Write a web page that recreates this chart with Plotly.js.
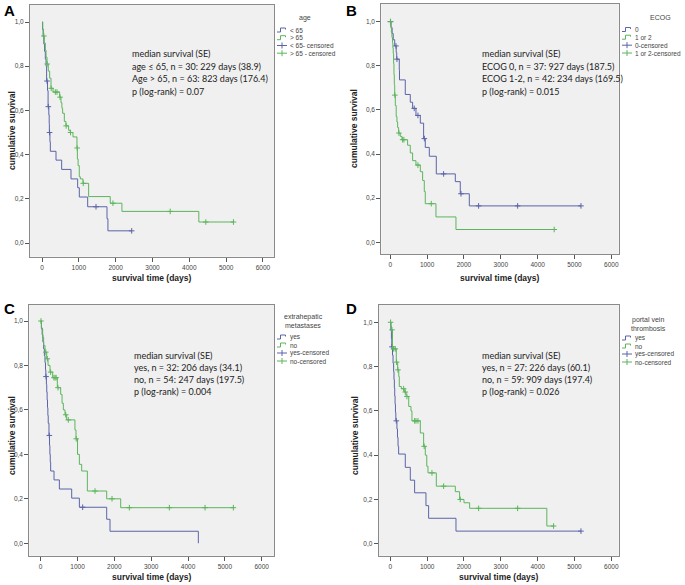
<!DOCTYPE html>
<html><head><meta charset="utf-8">
<script src="https://cdn.plot.ly/plotly-3.0.1.min.js"></script>
<style>html,body{margin:0;padding:0;background:#fff}#chart{width:685px;height:585px}</style>
</head><body><div id="chart"></div>
<script>
// ---------- DATA ----------
const xTickVals = [0, 1000, 2000, 3000, 4000, 5000, 6000];
const xTickText = ['0', '1000', '2000', '3000', '4000', '5000', '6000'];
const yTickVals = [0, 0.2, 0.4, 0.6, 0.8, 1.0];
const yTickText = ['0,0', '0,2', '0,4', '0,6', '0,8', '1,0'];

// Panel A: age
const A_le65_t = [15, 30, 50, 70, 90, 110, 125, 150, 165, 185, 195, 200, 215, 226, 380, 534, 787, 968, 1013, 1240, 1765, 1790];
const A_le65_s = [.967, .933, .9, .867, .833, .8, .733, .69, .617, .58, .54, .5, .458, .415, .375, .333, .29, .25, .208, .164, .11, .055];
const A_le65_c = [136, 172, 205, 1466, 2435];
const A_gt65_t = [20, 40, 60, 90, 110, 136, 170, 208, 244, 300, 479, 515, 540, 560, 606, 651, 723, 768, 841, 949, 960, 980, 1012, 1040, 1112, 1266, 1853, 2170, 4258];
const A_gt65_s = [.968, .937, .905, .873, .841, .81, .778, .746, .70, .683, .66, .635, .61, .587, .55, .53, .51, .50, .48, .43, .38, .35, .30, .29, .27, .21, .18, .143, .095];
const A_gt65_c = [50, 140, 250, 362, 407, 490, 655, 775, 955, 1120, 1926, 3480, 4448, 5198];

// Panel B: ECOG
const B_e0_t = [20, 50, 80, 120, 160, 175, 244, 250, 407, 543, 606, 697, 815, 905, 950, 1059, 1249, 1765, 1900, 2145];
const B_e0_s = [.973, .946, .918, .89, .86, .83, .78, .736, .67, .635, .607, .575, .54, .47, .43, .39, .31, .275, .22, .165];
const B_e0_c = [5, 154, 181, 650, 751, 925, 1448, 1920, 2398, 3457, 5177];
const B_e12_t = [15, 30, 45, 60, 70, 80, 90, 100, 109, 120, 136, 160, 181, 200, 226, 271, 317, 470, 543, 606, 697, 815, 878, 923, 950, 1240, 1783];
const B_e12_s = [.976, .952, .929, .905, .881, .857, .81, .76, .714, .667, .62, .57, .545, .52, .495, .48, .465, .44, .405, .37, .35, .32, .28, .23, .175, .115, .058];
const B_e12_c = [8, 125, 235, 335, 370, 751, 1113, 4450];

// Panel C: extrahepatic metastases
const C_yes_t = [20, 40, 60, 80, 100, 118, 130, 140, 155, 165, 175, 185, 195, 205, 225, 240, 250, 260, 271, 362, 507, 842, 1050, 1792, 1882, 4280];
const C_yes_s = [.969, .938, .906, .875, .844, .8125, .78, .75, .715, .68, .645, .61, .575, .54, .485, .44, .40, .365, .325, .285, .244, .203, .162, .108, .054, 0];
const C_yes_c = [145, 235, 1140];
const C_no_t = [20, 54, 80, 118, 163, 200, 253, 326, 452, 543, 580, 615, 660, 706, 930, 959, 1000, 1050, 1113, 1267, 1792, 2172];
const C_no_s = [.963, .926, .89, .86, .83, .80, .77, .745, .70, .67, .63, .60, .578, .555, .51, .47, .40, .355, .325, .235, .20, .16];
const C_no_c = [8, 138, 180, 270, 360, 390, 420, 470, 680, 750, 965, 1475, 1937, 2407, 3493, 4462, 5231];

// Panel D: portal vein thrombosis
const D_yes_t = [15, 30, 40, 60, 75, 90, 100, 110, 120, 130, 140, 150, 180, 195, 210, 226, 407, 543, 660, 968, 1040, 1783];
const D_yes_s = [.963, .926, .889, .852, .815, .778, .741, .704, .667, .63, .593, .555, .518, .48, .44, .405, .345, .287, .23, .172, .115, .057];
const D_yes_c = [45, 163, 5177];
const D_no_t = [15, 30, 60, 163, 200, 230, 244, 300, 380, 430, 500, 561, 588, 815, 905, 950, 990, 1023, 1249, 1765, 1882, 2000, 2154, 4250];
const D_no_s = [.983, .966, .88, .82, .785, .755, .71, .70, .685, .665, .62, .60, .555, .50, .44, .40, .35, .32, .26, .235, .20, .185, .16, .08];
const D_no_c = [8, 45, 90, 136, 170, 208, 362, 407, 452, 660, 697, 751, 920, 1131, 1448, 1900, 2398, 3457, 4434];

// Texts
const A_stats = ['median survival (SE)', 'age ≤ 65, n = 30: 229 days (38.9)', 'Age > 65, n = 63: 823 days (176.4)', 'p (log-rank) = 0.07'];
const B_stats = ['median survival (SE)', 'ECOG 0, n = 37: 927 days (187.5)', 'ECOG 1-2, n = 42: 234 days (169.5)', 'p (log-rank) = 0.015'];
const C_stats = ['median survival (SE)', 'yes, n = 32: 206 days (34.1)', 'no, n = 54: 247 days (197.5)', 'p (log-rank) = 0.004'];
const D_stats = ['median survival (SE)', 'yes, n = 27: 226 days (60.1)', 'no, n = 59: 909 days (197.4)', 'p (log-rank) = 0.026'];
const A_legTitle = ['age'];
const B_legTitle = ['ECOG'];
const C_legTitle = ['extrahepatic', 'metastases'];
const D_legTitle = ['portal vein', 'thrombosis'];
const A_legItems = ['< 65', '> 65', '< 65- censored', '> 65 - censored'];
const B_legItems = ['0', '1 or 2', '0-censored', '1 or 2-censored'];
const C_legItems = ['yes', 'no', 'yes-censored', 'no-censored'];
const D_legItems = ['yes', 'no', 'yes-censored', 'no-censored'];
const yTitle = 'cumulative survival';
const xTitle = 'survival time (days)';

// ---------- LAYOUT HELPERS ----------
const W = 685, H = 585;
const BLUE = '#5a64a8', GREEN = '#5cb55c';
const px = x => x / W;
const py = y => 1 - y / H;

const panels = [
  {letter:'A', ax:'', frame:[30,5,274.3,256.7], xr:[-326,6307], yr:[-0.062,1.077],
   curves:[[A_le65_t,A_le65_s,A_le65_c,BLUE],[A_gt65_t,A_gt65_s,A_gt65_c,GREEN]],
   stats:A_stats, statX:130, statY:[53,66.5,79,91.5],
   legTitle:A_legTitle, legTitleX:305, legTitleY:[18], legItems:A_legItems, iconX:277, legY:[30,37.7,45.5,53.2],
   letterXY:[2,10], yTitleXY:[12,131], xTitleXY:[152,278]},
  {letter:'B', ax:'2', frame:[381.3,4,618.7,254], xr:[-244,6201], yr:[-0.053,1.080],
   curves:[[B_e0_t,B_e0_s,B_e0_c,BLUE],[B_e12_t,B_e12_s,B_e12_c,GREEN]],
   stats:B_stats, statX:480, statY:[53,66.5,79,91.5],
   legTitle:B_legTitle, legTitleX:660, legTitleY:[17], legItems:B_legItems, iconX:622, legY:[29.5,37.2,45.2,53],
   letterXY:[344,10], yTitleXY:[354,129], xTitleXY:[500,278]},
  {letter:'C', ax:'3', frame:[29.3,305,274,555.7], xr:[-309,6334], yr:[-0.056,1.072],
   curves:[[C_yes_t,C_yes_s,C_yes_c,BLUE],[C_no_t,C_no_s,C_no_c,GREEN]],
   stats:C_stats, statX:132, statY:[355,367,379,391],
   legTitle:C_legTitle, legTitleX:303, legTitleY:[317,325], legItems:C_legItems, iconX:277, legY:[337,345,353,361],
   letterXY:[2,308], yTitleXY:[12,436], xTitleXY:[152,577]},
  {letter:'D', ax:'4', frame:[378.7,305,618.7,555.7], xr:[-315,6201], yr:[-0.054,1.078],
   curves:[[D_yes_t,D_yes_s,D_yes_c,BLUE],[D_no_t,D_no_s,D_no_c,GREEN]],
   stats:D_stats, statX:480, statY:[355,367,379,391],
   legTitle:D_legTitle, legTitleX:648, legTitleY:[320,328], legItems:D_legItems, iconX:622, legY:[338,346,354,362],
   letterXY:[344,308], yTitleXY:[355,436], xTitleXY:[499,577]}
];

function stepAt(t, ts, ss) {
  let v = 1;
  for (let i = 0; i < ts.length; i++) if (ts[i] <= t) v = ss[i];
  return v;
}

const traces = [];
const layout = {
  width: W, height: H, margin: {l:0, r:0, t:0, b:0},
  paper_bgcolor: '#ffffff', plot_bgcolor: '#f0f0f0',
  showlegend: false, annotations: [], shapes: [],
  font: {family: 'Liberation Sans, Arial, sans-serif', color: '#333'}
};

const axisCommon = {
  showgrid: false, zeroline: false, showline: true, mirror: true,
  linecolor: '#8a8a8a', linewidth: 1, ticks: 'outside', ticklen: 4, tickwidth: 1,
  tickcolor: '#555', fixedrange: true,
  tickfont: {family: 'Liberation Sans, Arial, sans-serif', size: 6.5, color: '#444'}
};

panels.forEach(p => {
  const xa = 'x' + p.ax, ya = 'y' + p.ax;
  const [l, t, r, b] = p.frame;
  layout['xaxis' + p.ax] = Object.assign({}, axisCommon, {
    domain: [px(l), px(r)], range: p.xr, anchor: ya,
    tickmode: 'array', tickvals: xTickVals, ticktext: xTickText
  });
  layout['yaxis' + p.ax] = Object.assign({}, axisCommon, {
    domain: [py(b), py(t)], range: p.yr, anchor: xa,
    tickmode: 'array', tickvals: yTickVals, ticktext: yTickText
  });

  p.curves.forEach(([ts, ss, cs, col]) => {
    const x = [0].concat(ts), y = [1].concat(ss);
    const lastC = Math.max.apply(null, cs);
    if (lastC > ts[ts.length - 1]) { x.push(lastC); y.push(ss[ss.length - 1]); }
    traces.push({type:'scatter', mode:'lines', x, y, xaxis:xa, yaxis:ya,
      line:{shape:'hv', color:col, width:1}, hoverinfo:'skip'});
    traces.push({type:'scatter', mode:'markers', x: cs, y: cs.map(c => stepAt(c, ts, ss)),
      xaxis:xa, yaxis:ya, hoverinfo:'skip',
      marker:{symbol:'cross-thin-open', size:4, color:col, line:{width:1, color:col}}});
  });

  // panel letter
  layout.annotations.push({xref:'paper', yref:'paper', x:px(p.letterXY[0]), y:py(p.letterXY[1]),
    xanchor:'left', yanchor:'middle', showarrow:false, text:'<b>'+p.letter+'</b>',
    font:{family:'Liberation Sans, Arial, sans-serif', size:15, color:'#000'}});
  // axis titles
  layout.annotations.push({xref:'paper', yref:'paper', x:px(p.yTitleXY[0]), y:py(p.yTitleXY[1]),
    xanchor:'center', yanchor:'middle', showarrow:false, textangle:-90, text:'<b>'+yTitle+'</b>',
    font:{family:'Liberation Sans, Arial, sans-serif', size:8.5, color:'#222'}});
  layout.annotations.push({xref:'paper', yref:'paper', x:px(p.xTitleXY[0]), y:py(p.xTitleXY[1]),
    xanchor:'center', yanchor:'middle', showarrow:false, text:'<b>'+xTitle+'</b>',
    font:{family:'Liberation Sans, Arial, sans-serif', size:8.5, color:'#222'}});
  // stats text
  p.stats.forEach((s, i) => {
    layout.annotations.push({xref:'paper', yref:'paper', x:px(p.statX), y:py(p.statY[i]),
      xanchor:'left', yanchor:'middle', showarrow:false, text:s,
      font:{family:'Lato, Open Sans, sans-serif', size:9, color:'#222'}});
  });
  // legend title
  p.legTitle.forEach((s, i) => {
    layout.annotations.push({xref:'paper', yref:'paper', x:px(p.legTitleX), y:py(p.legTitleY[i]),
      xanchor:'center', yanchor:'middle', showarrow:false, text:s,
      font:{family:'Liberation Sans, Arial, sans-serif', size:7, color:'#444'}});
  });
  // legend items
  p.legItems.forEach((s, i) => {
    const col = (i % 2 === 0) ? BLUE : GREEN;
    const x0 = p.iconX, yc = p.legY[i];
    let path;
    if (i < 2) {
      path = 'M' + px(x0) + ',' + py(yc + 2) + ' L' + px(x0 + 3.5) + ',' + py(yc + 2) +
             ' L' + px(x0 + 3.5) + ',' + py(yc - 2) + ' L' + px(x0 + 8.5) + ',' + py(yc - 2) +
             ' L' + px(x0 + 8.5) + ',' + py(yc - 0.5);
    } else {
      path = 'M' + px(x0) + ',' + py(yc) + ' L' + px(x0 + 10) + ',' + py(yc) +
             ' M' + px(x0 + 5) + ',' + py(yc - 3) + ' L' + px(x0 + 5) + ',' + py(yc + 3);
    }
    layout.shapes.push({type:'path', xref:'paper', yref:'paper', path, line:{color:col, width:1}});
    layout.annotations.push({xref:'paper', yref:'paper', x:px(x0 + 11), y:py(yc),
      xanchor:'left', yanchor:'middle', showarrow:false, text:s,
      font:{family:'Liberation Sans, Arial, sans-serif', size:6.5, color:'#444'}});
  });
});

Plotly.newPlot('chart', traces, layout, {staticPlot:true, displayModeBar:false});
</script></body></html>
